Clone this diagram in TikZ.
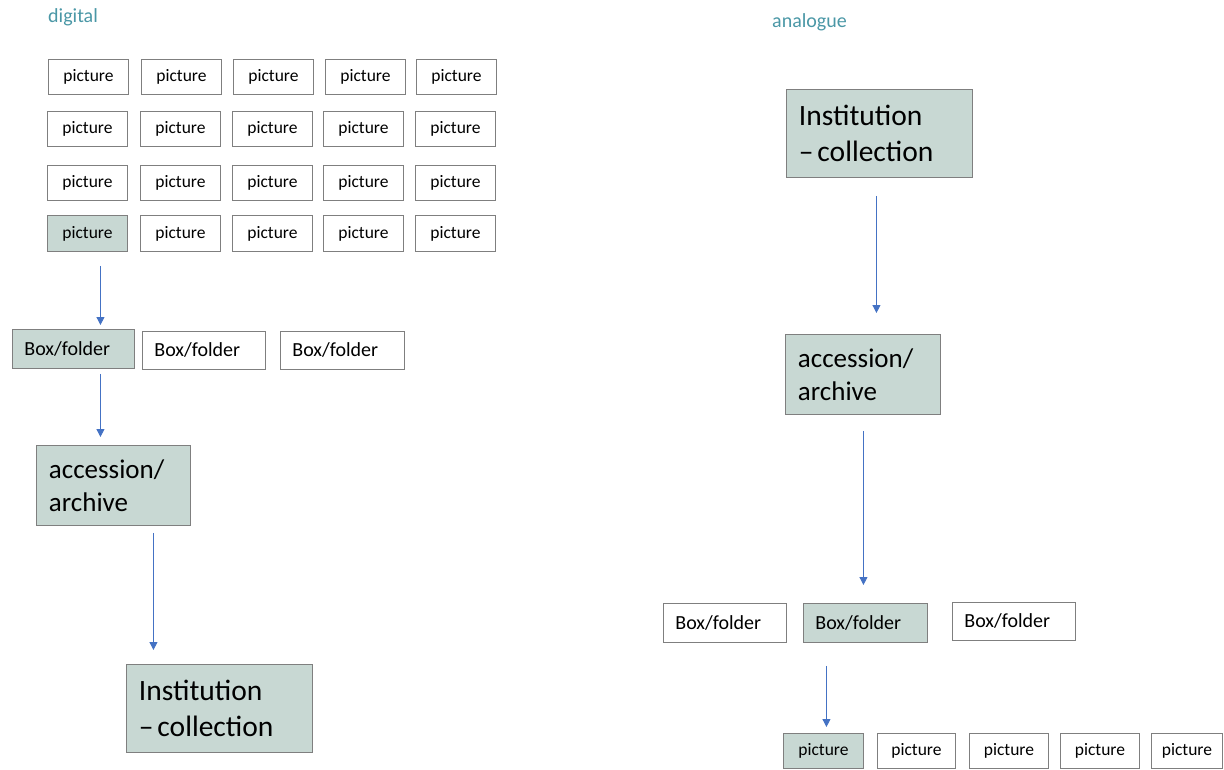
\documentclass[tikz,border=0pt]{standalone}
\usepackage{fontspec}
\setmainfont{Carlito}
\usetikzlibrary{calc,arrows.meta}
\definecolor{boxfill}{HTML}{C8D8D3}
\definecolor{boxline}{HTML}{7F7F7F}
\definecolor{arrowblue}{HTML}{4472C4}
\definecolor{headteal}{HTML}{4A97A6}
\tikzset{
  pic box/.style={draw=boxline, line width=0.9pt, fill=white, inner sep=0pt,
    minimum width=80pt, minimum height=35pt, anchor=north west,
    font=\fontsize{17.5}{20}\selectfont},
  sel/.style={fill=boxfill},
  bf box/.style={draw=boxline, line width=0.9pt, fill=white, inner xsep=12pt, inner ysep=0pt,
    align=left, anchor=north west, text width=99pt, minimum height=38pt,
    font=\fontsize{20}{24}\selectfont},
  big box/.style={draw=boxline, line width=0.9pt, fill=boxfill, inner xsep=12.5pt, inner ysep=0pt,
    align=left, anchor=north west},
  flow/.style={draw=arrowblue, line width=0.8pt, -{Triangle[length=8pt,width=8pt]}},
  head/.style={text=headteal, anchor=base west, inner sep=0pt, font=\fontsize{20}{24}\selectfont}
}
\newcommand{\instlabel}{Institution\\–\hspace{-6pt} collection}
\begin{document}
\begin{tikzpicture}[x=1pt,y=-1pt]
\useasboundingbox (0,0) rectangle (1224,769);
% headings
\node[head] (hd) at (48,22) {digital};
\node[head] (ha) at (772,27) {analogue};
% digital picture grid
\node[pic box] (p11) at (48,59) {picture};
\node[pic box] (p12) at (141,59) {picture};
\node[pic box] (p13) at (233,59) {picture};
\node[pic box] (p14) at (325,59) {picture};
\node[pic box] (p15) at (416,59) {picture};
\node[pic box] (p21) at (47,111) {picture};
\node[pic box] (p22) at (140,111) {picture};
\node[pic box] (p23) at (232,111) {picture};
\node[pic box] (p24) at (323,111) {picture};
\node[pic box] (p25) at (415,111) {picture};
\node[pic box] (p31) at (47,165) {picture};
\node[pic box] (p32) at (140,165) {picture};
\node[pic box] (p33) at (232,165) {picture};
\node[pic box] (p34) at (323,165) {picture};
\node[pic box] (p35) at (415,165) {picture};
\node[pic box,sel,minimum height=36pt] (p41) at (47,215) {picture};
\node[pic box,minimum height=36pt] (p42) at (140,215) {picture};
\node[pic box,minimum height=36pt] (p43) at (232,215) {picture};
\node[pic box,minimum height=36pt] (p44) at (323,215) {picture};
\node[pic box,minimum height=36pt] (p45) at (415,215) {picture};
% digital box/folder row
\node[bf box,sel,minimum height=39pt,text width=98pt] (bf1) at (12,329) {Box/folder};
\node[bf box,text width=99pt] (bf2) at (142,331) {Box/folder};
\node[bf box,text width=100pt] (bf3) at (280,331) {Box/folder};
% digital accession and institution
\node[big box, text width=129pt, minimum height=80pt, font=\fontsize{27}{33}\selectfont] (acc1) at (36,445) {accession/\\archive};
\node[big box, text width=161pt, minimum height=88pt, font=\fontsize{29.5}{36.5}\selectfont] (inst1) at (126,664) {\instlabel};
% analogue institution and accession
\node[big box, text width=161pt, minimum height=88pt, font=\fontsize{29.5}{36.5}\selectfont] (inst2) at (786,89) {\instlabel};
\node[big box, text width=130pt, minimum height=80pt, font=\fontsize{27}{33}\selectfont] (acc2) at (785,334) {accession/\\archive};
% analogue box/folder row
\node[bf box,minimum height=39pt,text width=99pt] (bf4) at (663,603) {Box/folder};
\node[bf box,sel,minimum height=39pt,text width=100pt] (bf5) at (803,603) {Box/folder};
\node[bf box,text width=99pt] (bf6) at (952,602) {Box/folder};
% analogue picture row
\node[pic box,sel] (q1) at (783,733) {picture};
\node[pic box,minimum width=78pt] (q2) at (877,733) {picture};
\node[pic box,minimum width=79pt] (q3) at (969,733) {picture};
\node[pic box,minimum width=79pt] (q4) at (1060,733) {picture};
\node[pic box,minimum width=71pt] (q5) at (1151,733) {picture};
% connectors (digital)
\draw[flow] ($(p41.south)+(13,14)$) -- ($(bf1.north)+(27,-4)$);
\draw[flow] ($(bf1.south)+(27,5)$) -- ($(acc1.north)+(-13,-8)$);
\draw[flow] ($(acc1.south)+(40,7)$) -- ($(inst1.north)+(-66,-14)$);
% connectors (analogue)
\draw[flow] ($(inst2.south)+(-3,18)$) -- ($(acc2.north)+(13.5,-21)$);
\draw[flow] ($(acc2.south)+(0.5,16)$) -- ($(bf5.north)+(-2,-18)$);
\draw[flow] ($(bf5.south)+(-39,23)$) -- ($(q1.north)+(3,-6)$);
\end{tikzpicture}
\end{document}
